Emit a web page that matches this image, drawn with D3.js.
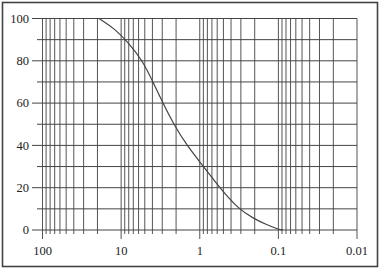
<!DOCTYPE html>
<html>
<head>
<meta charset="utf-8">
<script src="https://cdn.jsdelivr.net/npm/d3@7"></script>
<style>
  html, body { margin: 0; padding: 0; background: #fff; }
  svg { display: block; }
</style>
</head>
<body>
<div id="chart"></div>
<script>
// particle size and percent passing
const diameters = [19.1, 12.0, 8.17, 5.31, 3.94, 2.94, 2.15, 1.46, 0.895, 0.56, 0.324, 0.208, 0.140, 0.10, 0.087];
const percents  = [100, 95.1, 88.8, 80, 70, 60, 50, 40, 30, 20, 10, 5.5, 2.4, 0.3, 0];

const xTickLabels = [100, 10, 1, 0.1, 0.01];
const yTickLabels = [0, 20, 40, 60, 80, 100];
const yGrid = [0, 10, 20, 30, 40, 50, 60, 70, 80, 90, 100];

const width = 383;
const height = 271;

const x = d3.scaleLog()
    .domain([100, 0.01])
    .range([42.5, 357]);

const y = d3.scaleLinear()
    .domain([0, 100])
    .range([230, 18.5]);

const svg = d3.select("#chart").append("svg")
    .attr("width", width)
    .attr("height", height);

// outer frame
svg.append("rect")
    .attr("x", 2.5)
    .attr("y", 2.5)
    .attr("width", 375)
    .attr("height", 264)
    .attr("fill", "#fff")
    .attr("stroke", "#444")
    .attr("stroke-width", 1.6);

const g = svg.append("g");

// vertical grid lines (log decades)
const xLines = x.ticks();
g.selectAll("line.v")
    .data(xLines)
    .enter()
    .append("line")
    .attr("class", "v")
    .attr("x1", d => x(d))
    .attr("x2", d => x(d))
    .attr("y1", y(100))
    .attr("y2", d => {
        const major = Math.abs(Math.log10(d) - Math.round(Math.log10(d))) < 1e-9;
        return major ? y(0) + 9 : y(0) + 4;
    })
    .attr("stroke", "#555")
    .attr("stroke-width", 1);

// horizontal grid lines
g.selectAll("line.h")
    .data(yGrid)
    .enter()
    .append("line")
    .attr("class", "h")
    .attr("x1", d => d % 20 === 0 ? 32 : 37)
    .attr("x2", x(0.01))
    .attr("y1", d => y(d))
    .attr("y2", d => y(d))
    .attr("stroke", "#444")
    .attr("stroke-width", 1);

// tick labels
g.selectAll("text.y")
    .data(yTickLabels)
    .enter()
    .append("text")
    .attr("class", "y")
    .attr("x", 29)
    .attr("y", d => y(d))
    .attr("dy", "0.35em")
    .attr("text-anchor", "end")
    .attr("font-family", "Liberation Serif, serif")
    .attr("font-size", 12.5)
    .attr("fill", "#222")
    .text(d => d);

g.selectAll("text.x")
    .data(xTickLabels)
    .enter()
    .append("text")
    .attr("class", "x")
    .attr("x", d => x(d))
    .attr("y", 251)
    .attr("dy", "0.35em")
    .attr("text-anchor", "middle")
    .attr("font-family", "Liberation Serif, serif")
    .attr("font-size", 12.5)
    .attr("fill", "#222")
    .text(d => d);

// the curve
const points = diameters.map((d, i) => [d, percents[i]]);
const line = d3.line()
    .x(d => x(d[0]))
    .y(d => y(d[1]))
    .curve(d3.curveBasis);

g.append("path")
    .datum(points)
    .attr("d", line)
    .attr("fill", "none")
    .attr("stroke", "#444")
    .attr("stroke-width", 1.2);
</script>
</body>
</html>
